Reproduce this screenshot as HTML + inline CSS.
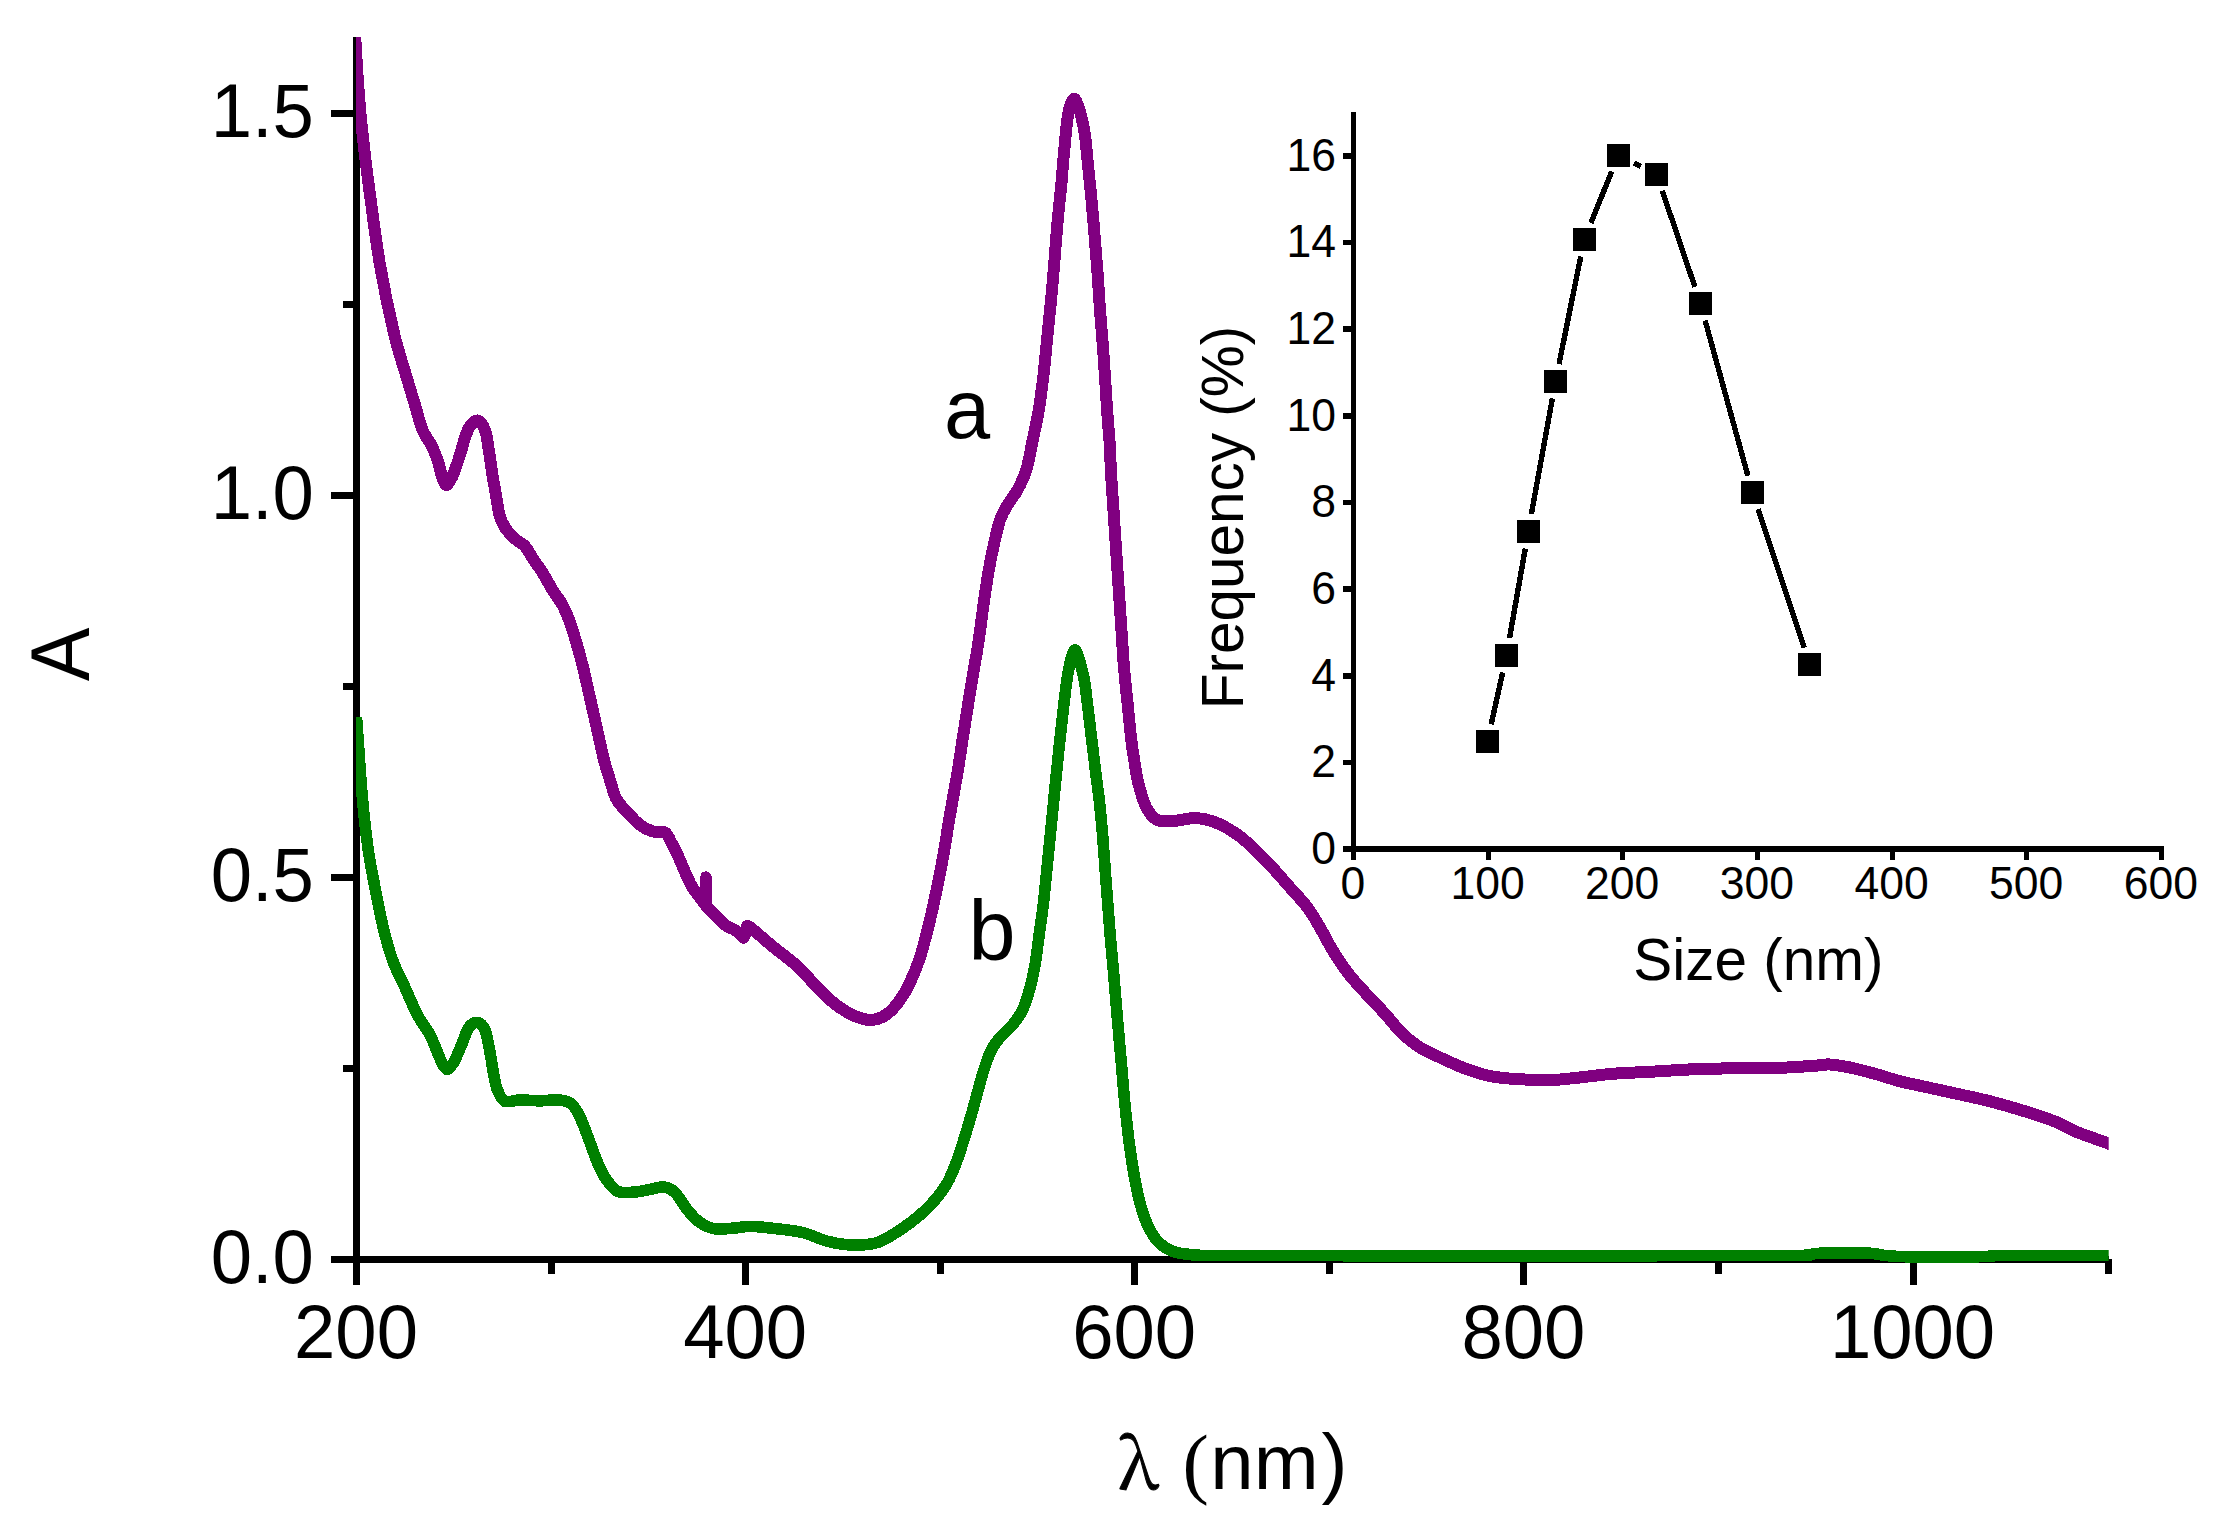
<!DOCTYPE html>
<html lang="en"><head><meta charset="utf-8"><title>UV-Vis absorption spectra</title>
<style>html,body{margin:0;padding:0;background:#fff}body{width:2220px;height:1530px;overflow:hidden}svg{display:block}text{font-family:"Liberation Sans",sans-serif;fill:#000}.ser{font-family:"Liberation Serif",serif}.lam{font-family:"Noto Serif CJK SC","Liberation Serif",serif;stroke:#000;stroke-width:1px}</style>
</head><body>
<svg width="2220" height="1530" viewBox="0 0 2220 1530" shape-rendering="crispEdges">
<rect width="2220" height="1530" fill="#fff"/>
<defs><clipPath id="cp"><rect x="356" y="37" width="1752.7" height="1226"/></clipPath></defs>
<g stroke="#000" stroke-width="7" fill="none" stroke-linecap="butt">
<path d="M356.5 37V1285"/>
<path d="M331 1259.5H2108.5"/>
<path d="M331 877.5H356.5"/>
<path d="M331 495.5H356.5"/>
<path d="M331 113.5H356.5"/>
<path d="M343 1068.5H356.5"/>
<path d="M343 686.5H356.5"/>
<path d="M343 304.5H356.5"/>
<path d="M745.6 1259V1285"/>
<path d="M1134.8 1259V1285"/>
<path d="M1523.9 1259V1285"/>
<path d="M1913.0 1259V1285"/>
<path d="M551.1 1259V1274"/>
<path d="M940.2 1259V1274"/>
<path d="M1329.3 1259V1274"/>
<path d="M1718.4 1259V1274"/>
<path d="M2108.5 1259V1274"/>
</g>
<g clip-path="url(#cp)" fill="none" stroke-width="12" stroke-linejoin="round" stroke-linecap="butt">
<path stroke="#800080" d="M355.2 37.0C355.6 43.3 356.7 62.7 357.5 75.0C358.3 87.3 359.2 99.0 360.2 111.0C361.3 123.0 362.3 132.2 364.0 147.0C365.7 161.8 368.0 180.1 370.7 200.0C373.4 219.9 376.4 244.5 380.3 266.7C384.2 288.9 389.5 314.4 394.0 333.3C398.5 352.2 404.0 368.1 407.5 380.0C411.0 391.9 412.5 396.7 415.0 405.0C417.5 413.3 419.8 423.3 422.5 430.0C425.2 436.7 428.8 440.0 431.3 445.0C433.8 450.0 435.6 454.5 437.5 460.0C439.4 465.5 441.0 473.8 442.5 478.0C444.0 482.2 445.0 484.7 446.3 485.0C447.6 485.3 449.2 482.0 450.5 480.0C451.8 478.0 452.2 477.2 453.8 473.0C455.4 468.8 458.1 460.9 460.0 455.0C461.9 449.1 463.3 442.3 465.0 437.5C466.7 432.7 467.9 429.1 470.0 426.3C472.1 423.5 475.0 419.9 477.5 420.5C480.0 421.1 483.1 425.1 485.0 430.0C486.9 434.9 487.6 442.5 488.8 450.0C490.1 457.5 491.2 467.1 492.5 475.0C493.8 482.9 495.1 490.8 496.3 497.5C497.5 504.2 498.1 510.0 499.5 515.0C500.9 520.0 502.4 523.5 505.0 527.5C507.6 531.5 511.7 535.7 515.0 538.8C518.3 541.9 521.9 542.8 525.0 546.3C528.1 549.8 530.9 555.6 533.8 560.0C536.7 564.4 539.4 567.5 542.5 572.5C545.6 577.5 549.2 584.6 552.5 590.0C555.8 595.4 559.6 599.6 562.5 605.0C565.4 610.4 567.7 616.2 570.0 622.5C572.3 628.8 574.2 635.4 576.3 642.5C578.4 649.6 580.4 656.7 582.5 665.0C584.6 673.3 586.7 683.3 588.8 692.5C590.9 701.7 593.1 711.7 595.0 720.0C596.9 728.3 598.4 735.5 600.0 742.5C601.6 749.5 602.8 755.8 604.5 762.0C606.2 768.2 608.0 773.9 610.0 780.0C612.0 786.1 613.4 793.4 616.3 798.8C619.2 804.2 623.5 808.1 627.5 812.5C631.5 816.9 635.8 821.9 640.0 825.0C644.2 828.1 648.3 830.0 652.5 831.3C656.7 832.5 661.9 830.6 665.0 832.5C668.1 834.4 669.0 838.3 671.3 842.5C673.6 846.7 676.3 852.1 678.8 857.5C681.3 862.9 684.0 870.0 686.3 875.0C688.6 880.0 690.2 883.8 692.5 887.5C694.8 891.2 697.5 894.2 700.0 897.5C702.5 900.8 705.0 904.6 707.5 907.5C710.0 910.4 712.1 912.1 715.0 915.0C717.9 917.9 721.7 922.5 725.0 925.0C728.3 927.5 732.3 928.3 735.0 930.0C737.7 931.7 739.5 933.8 741.0 935.0C742.5 936.2 743.0 938.0 743.8 937.5C744.6 937.0 745.4 933.9 746.0 932.0C746.6 930.1 746.0 926.1 747.5 926.0C749.0 925.9 750.8 927.9 755.0 931.3C759.2 934.7 765.4 940.5 772.5 946.3C779.6 952.1 790.4 959.8 797.5 966.3C804.6 972.8 809.6 979.4 815.0 985.0C820.4 990.6 824.6 995.4 830.0 1000.0C835.4 1004.6 842.1 1009.4 847.5 1012.5C852.9 1015.6 857.9 1017.6 862.5 1018.8C867.1 1020.0 870.8 1020.3 875.0 1019.5C879.2 1018.7 883.3 1017.0 887.5 1013.8C891.7 1010.5 896.2 1005.2 900.0 1000.0C903.8 994.8 906.7 989.6 910.0 982.5C913.3 975.4 916.9 967.1 920.0 957.5C923.1 947.9 926.3 935.0 928.8 925.0C931.3 915.0 932.7 908.3 935.0 897.5C937.3 886.7 940.0 873.8 942.5 860.0C945.0 846.2 947.5 829.6 950.0 815.0C952.5 800.4 955.4 785.0 957.5 772.5C959.6 760.0 960.8 751.2 962.5 740.0C964.2 728.8 966.1 716.7 968.0 705.0C969.9 693.3 972.0 680.8 973.8 670.0C975.6 659.2 977.1 651.2 978.8 640.0C980.5 628.8 982.1 614.2 983.8 602.5C985.5 590.8 987.1 579.6 988.8 570.0C990.5 560.4 991.9 553.3 993.8 545.0C995.7 536.7 997.7 526.7 1000.0 520.0C1002.3 513.3 1004.6 510.0 1007.5 505.0C1010.4 500.0 1014.4 495.8 1017.5 490.0C1020.6 484.2 1023.8 478.2 1026.3 470.0C1028.8 461.8 1030.4 451.0 1032.5 441.0C1034.6 431.0 1036.9 421.4 1038.8 410.0C1040.7 398.6 1042.3 385.0 1043.8 372.5C1045.2 360.0 1046.2 347.5 1047.5 335.0C1048.8 322.5 1050.1 310.0 1051.3 297.5C1052.5 285.0 1053.5 272.5 1054.5 260.0C1055.5 247.5 1056.4 235.0 1057.5 222.5C1058.6 210.0 1060.2 196.2 1061.3 185.0C1062.3 173.8 1062.8 165.4 1063.8 155.0C1064.8 144.6 1066.0 130.7 1067.0 122.5C1068.0 114.3 1068.8 110.0 1070.0 106.0C1071.2 102.0 1072.8 98.5 1074.3 98.8C1075.8 99.1 1077.7 104.5 1079.0 108.0C1080.3 111.5 1081.0 115.5 1082.0 120.0C1083.0 124.5 1084.0 127.5 1085.0 135.0C1086.0 142.5 1087.0 154.6 1088.0 165.0C1089.0 175.4 1090.2 185.8 1091.3 197.5C1092.4 209.2 1093.5 222.5 1094.5 235.0C1095.5 247.5 1096.6 260.0 1097.5 272.5C1098.4 285.0 1099.1 297.5 1100.0 310.0C1100.9 322.5 1102.1 335.0 1103.0 347.5C1103.9 360.0 1104.7 372.5 1105.5 385.0C1106.3 397.5 1107.3 413.2 1108.0 422.5C1108.7 431.8 1109.0 431.8 1109.5 441.0C1110.0 450.2 1110.6 465.2 1111.3 477.5C1112.0 489.8 1113.0 502.5 1113.8 515.0C1114.6 527.5 1115.5 540.0 1116.3 552.5C1117.1 565.0 1118.0 577.5 1118.8 590.0C1119.6 602.5 1120.5 615.0 1121.3 627.5C1122.1 640.0 1122.8 652.5 1123.8 665.0C1124.8 677.5 1126.2 690.0 1127.5 702.5C1128.8 715.0 1130.0 729.6 1131.3 740.0C1132.5 750.4 1133.8 757.5 1135.0 765.0C1136.2 772.5 1136.9 777.9 1138.8 785.0C1140.7 792.1 1143.2 801.7 1146.3 807.5C1149.4 813.3 1152.7 817.8 1157.5 820.0C1162.3 822.2 1168.8 821.1 1175.0 820.8C1181.2 820.5 1188.8 817.9 1195.0 818.0C1201.2 818.1 1206.2 819.1 1212.5 821.3C1218.8 823.5 1226.2 827.3 1232.5 831.3C1238.8 835.2 1243.8 839.4 1250.0 845.0C1256.2 850.6 1263.3 857.9 1270.0 865.0C1276.7 872.1 1283.8 880.4 1290.0 887.5C1296.2 894.6 1302.5 900.8 1307.5 907.5C1312.5 914.2 1315.8 920.4 1320.0 927.5C1324.2 934.6 1327.9 942.5 1332.5 950.0C1337.1 957.5 1342.1 965.4 1347.5 972.5C1352.9 979.6 1358.8 985.6 1365.0 992.5C1371.2 999.4 1378.8 1006.9 1385.0 1013.8C1391.2 1020.7 1396.7 1028.2 1402.5 1033.8C1408.3 1039.4 1413.8 1043.5 1420.0 1047.5C1426.2 1051.5 1432.9 1054.2 1440.0 1057.5C1447.1 1060.8 1454.6 1064.5 1462.5 1067.5C1470.4 1070.5 1479.2 1073.6 1487.5 1075.5C1495.8 1077.4 1502.1 1078.0 1512.5 1078.8C1522.9 1079.5 1539.6 1080.1 1550.0 1080.0C1560.4 1079.9 1564.6 1079.0 1575.0 1078.0C1585.4 1077.0 1600.0 1074.8 1612.5 1073.8C1625.0 1072.8 1634.6 1072.6 1650.0 1071.8C1665.4 1071.0 1684.2 1069.4 1705.0 1068.8C1725.8 1068.2 1756.2 1068.5 1775.0 1068.0C1793.8 1067.5 1808.3 1066.1 1817.5 1065.5C1826.7 1064.9 1824.6 1064.2 1830.0 1064.5C1835.4 1064.8 1842.5 1066.0 1850.0 1067.5C1857.5 1069.0 1866.7 1071.5 1875.0 1073.8C1883.3 1076.1 1891.7 1079.1 1900.0 1081.3C1908.3 1083.5 1914.6 1084.5 1925.0 1086.8C1935.4 1089.1 1951.7 1092.6 1962.5 1095.0C1973.3 1097.4 1979.6 1098.6 1990.0 1101.3C2000.4 1104.0 2013.8 1107.8 2025.0 1111.3C2036.2 1114.8 2049.2 1119.2 2057.5 1122.5C2065.8 1125.8 2066.4 1127.8 2075.0 1131.3C2083.6 1134.8 2102.6 1141.3 2109.3 1143.8C2116.0 1146.2 2114.1 1145.6 2115.0 1146.0"/>
<path stroke="#800080" stroke-width="11" stroke-linecap="round" d="M704.2 899.0L705.8 876.8L706.2 876.8L706.6 905.0"/>
<path stroke="#008000" stroke-width="11.6" d="M356.5 717.5C356.8 722.1 357.8 735.4 358.5 745.0C359.2 754.6 359.6 763.3 360.5 775.0C361.4 786.7 362.6 801.7 364.0 815.0C365.4 828.3 366.8 840.8 369.0 855.0C371.2 869.2 375.0 887.5 377.5 900.0C380.0 912.5 381.3 920.0 383.8 930.0C386.3 940.0 389.0 950.4 392.5 960.0C396.0 969.6 400.8 978.3 405.0 987.5C409.2 996.7 413.3 1007.1 417.5 1015.0C421.7 1022.9 426.7 1028.8 430.0 1035.0C433.3 1041.2 435.4 1047.7 437.5 1052.5C439.6 1057.3 440.9 1061.2 442.5 1064.0C444.1 1066.8 445.6 1069.2 447.0 1069.5C448.4 1069.8 449.7 1067.6 451.0 1066.0C452.3 1064.4 453.1 1063.9 455.0 1060.0C456.9 1056.1 460.2 1047.9 462.5 1042.5C464.8 1037.1 466.3 1030.8 468.8 1027.5C471.3 1024.2 474.8 1022.1 477.5 1022.5C480.2 1022.9 482.9 1025.0 485.0 1030.0C487.1 1035.0 488.5 1045.0 490.0 1052.5C491.5 1060.0 492.6 1068.8 493.8 1075.0C495.1 1081.2 495.6 1085.6 497.5 1090.0C499.4 1094.4 501.2 1099.6 505.0 1101.3C508.8 1103.0 514.2 1100.1 520.0 1100.0C525.8 1099.9 533.3 1100.8 540.0 1100.8C546.7 1100.8 554.6 1099.3 560.0 1100.0C565.4 1100.7 569.0 1101.7 572.5 1105.0C576.0 1108.3 578.4 1113.8 581.3 1120.0C584.2 1126.2 587.3 1135.4 590.0 1142.5C592.7 1149.6 595.0 1156.7 597.5 1162.5C600.0 1168.3 601.7 1172.7 605.0 1177.5C608.3 1182.3 612.5 1188.9 617.5 1191.3C622.5 1193.7 629.6 1192.3 635.0 1192.0C640.4 1191.7 645.2 1190.3 650.0 1189.5C654.8 1188.7 659.6 1186.5 663.8 1187.0C668.0 1187.5 671.0 1188.7 675.0 1192.5C679.0 1196.3 683.3 1205.0 687.5 1210.0C691.7 1215.0 695.4 1219.4 700.0 1222.5C704.6 1225.6 709.2 1227.9 715.0 1228.8C720.8 1229.7 729.2 1228.4 735.0 1228.0C740.8 1227.6 744.2 1226.3 750.0 1226.3C755.8 1226.3 761.2 1227.0 770.0 1228.0C778.8 1229.0 792.9 1230.3 802.5 1232.5C812.1 1234.7 819.2 1239.2 827.5 1241.3C835.8 1243.4 844.2 1244.8 852.5 1245.0C860.8 1245.2 869.6 1245.0 877.5 1242.5C885.4 1240.0 892.9 1234.6 900.0 1230.0C907.1 1225.4 914.2 1220.0 920.0 1215.0C925.8 1210.0 930.4 1205.4 935.0 1200.0C939.6 1194.6 944.0 1188.8 947.5 1182.5C951.0 1176.2 953.6 1169.6 956.3 1162.5C959.0 1155.4 961.3 1147.9 963.8 1140.0C966.3 1132.1 969.0 1122.9 971.3 1115.0C973.6 1107.1 975.4 1100.0 977.5 1092.5C979.6 1085.0 981.5 1077.1 983.8 1070.0C986.1 1062.9 988.6 1055.4 991.3 1050.0C994.0 1044.6 996.5 1041.7 1000.0 1037.5C1003.5 1033.3 1008.8 1029.6 1012.5 1025.0C1016.2 1020.4 1019.6 1016.2 1022.5 1010.0C1025.4 1003.8 1027.9 995.5 1030.0 988.0C1032.1 980.5 1033.4 974.2 1035.0 965.0C1036.6 955.8 1038.0 943.3 1039.5 932.5C1041.0 921.7 1042.2 913.8 1043.8 900.0C1045.3 886.2 1047.1 866.7 1048.8 850.0C1050.5 833.3 1052.1 816.7 1053.8 800.0C1055.5 783.3 1057.1 765.8 1058.8 750.0C1060.5 734.2 1062.4 717.1 1063.8 705.0C1065.2 692.9 1066.3 684.2 1067.3 677.5C1068.3 670.8 1068.8 668.8 1069.6 665.0C1070.4 661.2 1071.4 657.5 1072.3 655.0C1073.2 652.5 1074.1 649.8 1075.0 649.8C1075.9 649.8 1076.8 652.5 1077.8 655.0C1078.8 657.5 1079.7 661.2 1080.7 665.0C1081.7 668.8 1083.0 673.7 1083.8 677.5C1084.6 681.3 1084.7 681.8 1085.5 688.0C1086.3 694.2 1087.6 705.3 1088.8 715.0C1090.0 724.7 1091.2 735.6 1092.5 746.0C1093.8 756.4 1095.1 768.1 1096.3 777.5C1097.5 786.9 1098.4 792.1 1099.5 802.5C1100.6 812.9 1101.9 826.2 1103.0 840.0C1104.1 853.8 1105.1 869.6 1106.3 885.0C1107.5 900.4 1108.8 917.5 1110.0 932.5C1111.2 947.5 1112.5 960.4 1113.8 975.0C1115.0 989.6 1116.2 1005.4 1117.5 1020.0C1118.8 1034.6 1120.0 1048.3 1121.3 1062.5C1122.5 1076.7 1123.6 1091.2 1125.0 1105.0C1126.4 1118.8 1127.8 1132.5 1129.5 1145.0C1131.2 1157.5 1133.0 1169.6 1135.0 1180.0C1137.0 1190.4 1139.0 1199.6 1141.3 1207.5C1143.6 1215.4 1145.9 1221.7 1148.8 1227.5C1151.7 1233.3 1154.8 1238.5 1158.8 1242.5C1162.8 1246.5 1167.3 1249.3 1172.5 1251.3C1177.7 1253.3 1183.8 1253.8 1190.0 1254.5C1196.2 1255.2 1191.7 1255.3 1210.0 1255.5C1228.3 1255.7 1251.7 1255.5 1300.0 1255.6C1348.3 1255.7 1433.3 1256.0 1500.0 1256.0C1566.7 1256.0 1650.0 1255.7 1700.0 1255.6C1750.0 1255.5 1780.8 1255.8 1800.0 1255.4C1819.2 1255.1 1808.3 1253.9 1815.0 1253.5C1821.7 1253.1 1830.8 1253.0 1840.0 1253.0C1849.2 1253.0 1862.5 1252.8 1870.0 1253.2C1877.5 1253.6 1878.8 1254.9 1885.0 1255.5C1891.2 1256.1 1896.2 1256.5 1907.0 1256.8C1917.8 1257.0 1936.2 1257.0 1950.0 1257.0C1963.8 1257.0 1981.7 1256.7 1990.0 1256.5C1998.3 1256.3 1979.2 1255.8 2000.0 1255.6C2020.8 1255.4 2095.8 1255.6 2115.0 1255.6"/>
</g>
<text transform="translate(313.9 1283.0) scale(1 1.02)" font-size="74.3" text-anchor="end">0.0</text>
<text transform="translate(313.9 901.0) scale(1 1.02)" font-size="74.3" text-anchor="end">0.5</text>
<text transform="translate(313.9 519.0) scale(1 1.02)" font-size="74.3" text-anchor="end">1.0</text>
<text transform="translate(313.9 137.0) scale(1 1.02)" font-size="74.3" text-anchor="end">1.5</text>
<text transform="translate(356.0 1357.7) scale(1 1.02)" font-size="74.3" text-anchor="middle">200</text>
<text transform="translate(745.1 1357.7) scale(1 1.02)" font-size="74.3" text-anchor="middle">400</text>
<text transform="translate(1134.2 1357.7) scale(1 1.02)" font-size="74.3" text-anchor="middle">600</text>
<text transform="translate(1523.4 1357.7) scale(1 1.02)" font-size="74.3" text-anchor="middle">800</text>
<text transform="translate(1912.5 1357.7) scale(1 1.02)" font-size="74.3" text-anchor="middle">1000</text>
<text y="1488.7" font-size="78"><tspan class="lam" x="1118.3" y="1489.2" font-size="69.5">λ</tspan><tspan> </tspan><tspan class="ser" x="1182.6" y="1488.7" font-size="79">(</tspan><tspan x="1210.25">nm</tspan><tspan x="1321.6">)</tspan></text>
<text transform="translate(89.1 654.4) rotate(-90) scale(1 1.03)" font-size="80.5" text-anchor="middle">A</text>
<text transform="translate(967.2 438.2)" font-size="83" text-anchor="middle">a</text>
<text transform="translate(992.1 960.0)" font-size="84.5" text-anchor="middle">b</text>
<g stroke="#000" stroke-width="5" fill="none">
<path d="M1353.5 112V860"/>
<path stroke-width="5.6" d="M1343.1 849.1H2164.1"/>
<path stroke-width="5.6" d="M1343.1 762.5H1353.5"/>
<path stroke-width="5.6" d="M1343.1 675.8H1353.5"/>
<path stroke-width="5.6" d="M1343.1 589.1H1353.5"/>
<path stroke-width="5.6" d="M1343.1 502.5H1353.5"/>
<path stroke-width="5.6" d="M1343.1 415.9H1353.5"/>
<path stroke-width="5.6" d="M1343.1 329.2H1353.5"/>
<path stroke-width="5.6" d="M1343.1 242.5H1353.5"/>
<path stroke-width="5.6" d="M1343.1 155.9H1353.5"/>
<path d="M1488.2 849.1V860"/>
<path d="M1622.8 849.1V860"/>
<path d="M1757.5 849.1V860"/>
<path d="M1892.2 849.1V860"/>
<path d="M2026.8 849.1V860"/>
<path d="M2161.5 849.1V860"/>
</g>
<g stroke="#000" stroke-width="5.4" fill="none">
<path d="M1491.2 724.3L1502.7 672.4"/>
<path d="M1509.5 638.1L1525.3 548.5"/>
<path d="M1531.4 514.1L1552.4 398.4"/>
<path d="M1559.0 364.0L1580.8 256.4"/>
<path d="M1590.9 223.0L1611.7 171.5"/>
<path d="M1634.0 163.0L1641.0 166.5"/>
<path d="M1662.3 190.8L1694.9 286.9"/>
<path d="M1705.1 320.4L1747.9 475.8"/>
<path d="M1758.0 509.3L1804.2 647.9"/>
</g>
<g fill="#000">
<rect x="1475.9" y="729.9" width="23" height="23"/>
<rect x="1495.0" y="643.8" width="23" height="23"/>
<rect x="1516.8" y="519.8" width="23" height="23"/>
<rect x="1544.0" y="369.7" width="23" height="23"/>
<rect x="1572.8" y="227.7" width="23" height="23"/>
<rect x="1606.8" y="143.8" width="23" height="23"/>
<rect x="1645.2" y="162.7" width="23" height="23"/>
<rect x="1689.0" y="292.0" width="23" height="23"/>
<rect x="1741.0" y="481.2" width="23" height="23"/>
<rect x="1798.2" y="653.0" width="23" height="23"/>
</g>
<text transform="translate(1336.0 863.9) scale(1 1.04)" font-size="44.5" text-anchor="end">0</text>
<text transform="translate(1336.0 777.2) scale(1 1.04)" font-size="44.5" text-anchor="end">2</text>
<text transform="translate(1336.0 690.6) scale(1 1.04)" font-size="44.5" text-anchor="end">4</text>
<text transform="translate(1336.0 603.9) scale(1 1.04)" font-size="44.5" text-anchor="end">6</text>
<text transform="translate(1336.0 517.3) scale(1 1.04)" font-size="44.5" text-anchor="end">8</text>
<text transform="translate(1336.0 430.7) scale(1 1.04)" font-size="44.5" text-anchor="end">10</text>
<text transform="translate(1336.0 344.0) scale(1 1.04)" font-size="44.5" text-anchor="end">12</text>
<text transform="translate(1336.0 257.3) scale(1 1.04)" font-size="44.5" text-anchor="end">14</text>
<text transform="translate(1336.0 170.7) scale(1 1.04)" font-size="44.5" text-anchor="end">16</text>
<text transform="translate(1352.9 899.4) scale(1 1.04)" font-size="44.5" text-anchor="middle">0</text>
<text transform="translate(1487.6 899.4) scale(1 1.04)" font-size="44.5" text-anchor="middle">100</text>
<text transform="translate(1622.2 899.4) scale(1 1.04)" font-size="44.5" text-anchor="middle">200</text>
<text transform="translate(1756.9 899.4) scale(1 1.04)" font-size="44.5" text-anchor="middle">300</text>
<text transform="translate(1891.6 899.4) scale(1 1.04)" font-size="44.5" text-anchor="middle">400</text>
<text transform="translate(2026.2 899.4) scale(1 1.04)" font-size="44.5" text-anchor="middle">500</text>
<text transform="translate(2160.9 899.4) scale(1 1.04)" font-size="44.5" text-anchor="middle">600</text>
<text transform="translate(1758.4 980.0)" font-size="58.5" text-anchor="middle">Size (nm)</text>
<text transform="translate(1242.5 517.5) rotate(-90)" font-size="58.5" text-anchor="middle">Frequency (%)</text>
</svg>
</body></html>
